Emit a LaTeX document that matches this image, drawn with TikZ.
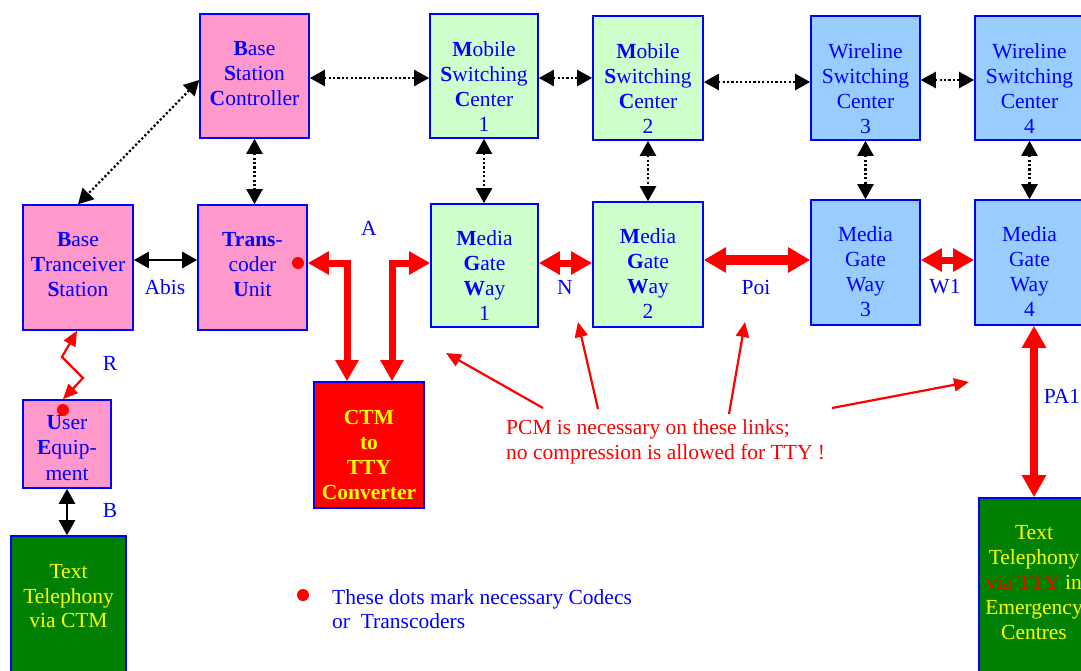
\documentclass[tikz,border=0pt]{standalone}
\usepackage{fontspec}
\setmainfont{Liberation Serif}
\usetikzlibrary{arrows.meta}
\definecolor{pinkfill}{HTML}{FF99CC}
\definecolor{greenfill}{HTML}{CCFFCC}
\definecolor{bluefill}{HTML}{99CCFF}
\definecolor{darkgreen}{HTML}{008000}
\definecolor{tblue}{HTML}{0000FF}
\definecolor{tred}{HTML}{FF0000}
\definecolor{tyellow}{HTML}{FFFF00}
\begin{document}
\begin{tikzpicture}[x=1pt,y=-1pt,
  font=\fontsize{21.5}{25}\selectfont,
  box/.style={rectangle, draw=tblue, line width=1.6pt, inner sep=0pt, minimum width=109pt, minimum height=124pt},
  pinkbox/.style={box, fill=pinkfill},
  greenbox/.style={box, fill=greenfill},
  bluebox/.style={box, fill=bluefill},
  boxtext/.style={anchor=north, inner sep=0pt, align=center, text=tblue},
  lbl/.style={inner sep=0pt, text=tblue},
  reddot/.style={circle, fill=tred, inner sep=0pt, minimum size=12pt},
  dotarrow/.style={line width=2.2pt, dash pattern=on 2.2pt off 2.2pt,
    {Triangle[length=15pt,width=16pt]}-{Triangle[length=15pt,width=16pt]}},
  blackarrow/.style={line width=2.6pt,
    {Triangle[length=15pt,width=16pt]}-{Triangle[length=15pt,width=16pt]}},
  redthick/.style={draw=tred, line width=7pt, line join=miter,
    {Triangle[length=21pt,width=22pt]}-{Triangle[length=21pt,width=22pt]}},
  redthin/.style={draw=tred, line width=2.2pt, -{Triangle[length=15pt,width=13pt]}},
  zigzag/.style={draw=tred, line width=2.2pt, line join=miter,
    {Triangle[length=15pt,width=13pt]}-{Triangle[length=15pt,width=13pt]}}
]
\useasboundingbox (0,0) rectangle (1081,670);
\clip (0,0) rectangle (1081,670);

% ---- boxes ----
\node[pinkbox] (bsc) at (254.5,76) {};
\node[greenbox, minimum width=108pt] (msc1) at (484,76) {};
\node[greenbox, minimum width=110pt] (msc2) at (648,78) {};
\node[bluebox] (wsc3) at (865.5,78) {};
\node[bluebox] (wsc4) at (1029.5,78) {};

\node[pinkbox, minimum width=110pt, minimum height=125pt] (bts) at (78,267.5) {};
\node[pinkbox, minimum height=125pt] (tcu) at (252.5,267.5) {};
\node[greenbox, minimum width=107pt, minimum height=123pt] (mgw1) at (484.5,265.5) {};
\node[greenbox, minimum width=110pt, minimum height=125pt] (mgw2) at (648,264.5) {};
\node[bluebox, minimum height=125pt] (mgw3) at (865.5,262.5) {};
\node[bluebox, minimum height=125pt] (mgw4) at (1029.5,262.5) {};

\node[box, fill=tred, minimum width=110pt, minimum height=126pt] (ctm) at (369,445) {};
\node[pinkbox, minimum width=88pt, minimum height=88pt] (ue) at (67,444) {};
\node[box, fill=darkgreen, minimum width=115pt, minimum height=144pt] (ttctm) at (68.5,608) {};
\node[box, fill=darkgreen, minimum width=110pt, minimum height=182pt] (ttemg) at (1034,589) {};

% ---- box texts ----
\node[boxtext] (bsc-t) at ([yshift=-28pt]bsc.north) {\textbf{B}ase\\\textbf{S}tation\\\textbf{C}ontroller};
\node[boxtext] (msc1-t) at ([yshift=-28pt]msc1.north) {\textbf{M}obile\\\textbf{S}witching\\\textbf{C}enter\\1};
\node[boxtext] (msc2-t) at ([yshift=-28pt]msc2.north) {\textbf{M}obile\\\textbf{S}witching\\\textbf{C}enter\\2};
\node[boxtext] (wsc3-t) at ([yshift=-28pt]wsc3.north) {Wireline\\Switching\\Center\\3};
\node[boxtext] (wsc4-t) at ([yshift=-28pt]wsc4.north) {Wireline\\Switching\\Center\\4};
\node[boxtext] (bts-t) at ([yshift=-28pt]bts.north) {\textbf{B}ase\\\textbf{T}ranceiver\\\textbf{S}tation};
\node[boxtext] (tcu-t) at ([yshift=-28pt]tcu.north) {\textbf{Trans}-\\coder\\\textbf{U}nit};
\node[boxtext] (mgw1-t) at ([yshift=-27.5pt]mgw1.north) {\textbf{M}edia\\\textbf{G}ate\\\textbf{W}ay\\1};
\node[boxtext] (mgw2-t) at ([yshift=-27.5pt]mgw2.north) {\textbf{M}edia\\\textbf{G}ate\\\textbf{W}ay\\2};
\node[boxtext] (mgw3-t) at ([yshift=-27.5pt]mgw3.north) {Media\\Gate\\Way\\3};
\node[boxtext] (mgw4-t) at ([yshift=-27.5pt]mgw4.north) {Media\\Gate\\Way\\4};
\node[boxtext, text=tyellow, font=\fontsize{21.5}{25}\selectfont\bfseries] (ctm-t) at ([yshift=-29pt]ctm.north) {CTM\\to\\TTY\\Converter};
\node[boxtext, font=\fontsize{21.5}{25.5}\selectfont] (ue-t) at ([yshift=-16pt]ue.north) {\textbf{U}ser\\\textbf{E}quip-\\ment};
\node[boxtext, text=tyellow, font=\fontsize{21.5}{24.5}\selectfont] (ttctm-t) at ([yshift=-29.5pt]ttctm.north) {Text\\Telephony\\via CTM};
\node[boxtext, text=tyellow, font=\fontsize{21.5}{24.8}\selectfont] (ttemg-t) at ([yshift=-28.5pt]ttemg.north) {Text\\Telephony\\{\color{tred}via TTY} in\\Emergency\\Centres};

% ---- dotted signalling links ----
\draw[dotarrow] ([yshift=-4pt]bsc.west) -- (bts.north);
\draw[dotarrow] ([yshift=-2pt]bsc.east) -- ([yshift=-2pt]msc1.west);
\draw[dotarrow] ([yshift=-2pt]msc1.east) -- (msc2.west);
\draw[dotarrow] ([yshift=-4pt]msc2.east) -- ([yshift=-4pt]wsc3.west);
\draw[dotarrow] ([yshift=-2pt]wsc3.east) -- ([yshift=-2pt]wsc4.west);
\draw[dotarrow] (bsc.south) -- (bsc.south |- tcu.north);
\draw[dotarrow] (msc1.south) -- (msc1.south |- mgw1.north);
\draw[dotarrow] (msc2.south) -- (msc2.south |- mgw2.north);
\draw[dotarrow] (wsc3.south) -- (wsc3.south |- mgw3.north);
\draw[dotarrow] (wsc4.south) -- (wsc4.south |- mgw4.north);

% ---- solid black links ----
\draw[blackarrow] ([yshift=7.5pt]bts.east) -- ([yshift=7.5pt]bts.east -| tcu.west);
\draw[blackarrow] (ue.south) -- (ue.south |- ttctm.north);

% ---- red PCM links ----
\draw[redthick] ([yshift=4.5pt]tcu.east) -| ([xshift=-22pt]ctm.north);
\draw[redthick] ([xshift=23pt]ctm.north) |- ([yshift=2.5pt]mgw1.west);
\draw[redthick] ([yshift=2.5pt]mgw1.east) -- ([yshift=2.5pt]mgw1.east -| mgw2.west);
\draw[redthick, line width=10pt, {Triangle[length=22pt,width=24pt]}-{Triangle[length=22pt,width=24pt]}] ([yshift=4.5pt]mgw2.east) -- ([yshift=2.5pt]mgw3.west);
\draw[redthick] ([yshift=2.5pt]mgw3.east) -- ([yshift=2.5pt]mgw4.west);
\draw[redthick, line width=8pt, {Triangle[length=22pt,width=23pt]}-{Triangle[length=22pt,width=23pt]}] (ttemg.north |- mgw4.south) -- (ttemg.north);

% ---- radio link ----
\coordinate (z1) at (62,357);
\coordinate (z2) at (83,378);
\draw[zigzag] ([xshift=-1pt]bts.south) -- (z1) -- (z2) -- ([xshift=-4pt]ue.north);

% ---- codec dots ----
\node[reddot] (tcu-dot) at (298,263) {};
\node[reddot] (ue-dot) at (63,410) {};

% ---- interface labels ----
\node[lbl] (l-abis) at (165,287) {Abis};
\node[lbl] (l-a) at (369,228) {A};
\node[lbl] (l-n) at (565,287) {N};
\node[lbl] (l-poi) at (756,287) {Poi};
\node[lbl] (l-w1) at (945,287) {W1};
\node[lbl] (l-r) at (110,363) {R};
\node[lbl] (l-b) at (110,510) {B};
\node[lbl] (l-pa1) at (1062,396) {PA1};

% ---- note ----
\node[anchor=north west, inner sep=0pt, align=left, text=tred] (note) at (506,419)
  {PCM is necessary on these links;\\no compression is allowed for TTY !};
\coordinate (p1s) at (543,408); \coordinate (p1e) at (446,353);
\coordinate (p2s) at (598,409); \coordinate (p2e) at (578,322);
\coordinate (p3s) at (729,414); \coordinate (p3e) at (745,322);
\coordinate (p4s) at (832,408); \coordinate (p4e) at (969,382);
\draw[redthin] (p1s) -- (p1e);
\draw[redthin] (p2s) -- (p2e);
\draw[redthin] (p3s) -- (p3e);
\draw[redthin] (p4s) -- (p4e);

% ---- legend ----
\node[reddot] (leg-dot) at (303,595) {};
\node[anchor=north west, inner sep=0pt, align=left, text=tblue, font=\fontsize{21.5}{24}\selectfont] (legend) at (332,589)
  {These dots mark necessary Codecs\\or\ \ Transcoders};
\end{tikzpicture}
\end{document}
